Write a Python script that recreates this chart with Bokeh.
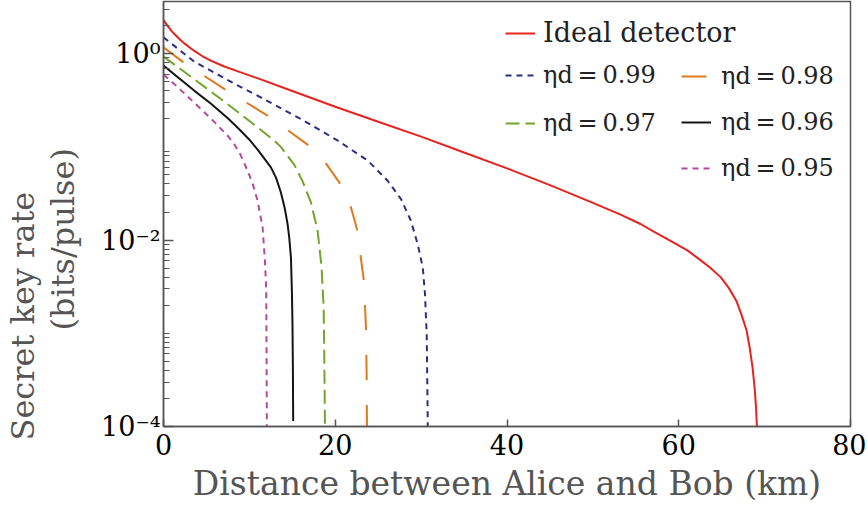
from bokeh.plotting import figure
from bokeh.models import Range1d, FixedTicker, Legend, LegendItem, Title
from bokeh.embed import file_html
from bokeh.resources import INLINE

# ---- data (distance in km, log10 of secret key rate) ----
ideal_km = [0, 0.5, 1, 1.5, 2, 2.5, 3.5, 4.5, 5.5, 7, 9, 11, 15, 20, 25, 30, 35, 40, 45, 50,
            53.3, 55.6, 57.3, 59.1, 61, 62.6, 63.7, 64.9, 65.8, 66.7, 67.3, 67.9, 68.25, 68.6,
            68.85, 69.0, 69.15, 69.2]
ideal_log = [0.36, 0.295, 0.237, 0.19, 0.145, 0.105, 0.035, -0.025, -0.075, -0.135, -0.2, -0.265,
             -0.40, -0.57, -0.73, -0.89, -1.06, -1.23, -1.41, -1.60,
             -1.73, -1.83, -1.92, -2.01, -2.11, -2.22, -2.30, -2.40, -2.51, -2.65, -2.80, -2.97,
             -3.15, -3.37, -3.6, -3.8, -4.1, -4.5]

d99_km = [0, 3.57, 8.43, 11.34, 16.2, 20.3, 23.8, 26.1, 27.66, 28.8, 29.6, 30.19, 30.45, 30.65, 30.77, 30.8]
d99_log = [0.176, -0.085, -0.33, -0.47, -0.711, -0.933, -1.148, -1.363, -1.56, -1.79, -2.043, -2.294,
           -2.577, -3.01, -3.94, -4.5]

d98_km = [0, 2.21, 7.06, 12.12, 16.78, 18.7, 20.47, 21.83, 22.53, 23.31, 23.58, 23.66, 23.72]
d98_log = [0.069, -0.085, -0.378, -0.665, -0.976, -1.15, -1.381, -1.65, -1.882, -2.419, -2.939, -3.476, -4.5]

d97_km = [0, 2.21, 6.68, 10.96, 12.89, 13.67, 15.22, 16.2, 17.17, 17.95, 18.41, 18.65, 18.72, 18.8, 18.82]
d97_log = [-0.031, -0.18, -0.486, -0.79, -0.933, -1.0, -1.19, -1.37, -1.596, -1.90, -2.294, -2.724,
           -3.19, -4.0, -4.5]

d96_km = [0, 3.57, 5.5, 7.46, 8.7, 9.98, 10.96, 12.51, 13.1, 13.67, 14.1, 14.45, 14.65, 14.84, 14.95,
          15.02, 15.07, 15.1]
d96_log = [-0.128, -0.396, -0.535, -0.69, -0.80, -0.92, -1.03, -1.22, -1.33, -1.49, -1.65, -1.828,
           -1.98, -2.187, -2.545, -2.9, -3.4, -3.94]

d95_km = [0, 1.24, 4.35, 6, 7.46, 8.23, 9.0, 9.79, 10.4, 10.96, 11.54, 11.81, 11.96, 12.04, 12.05]
d95_log = [-0.224, -0.324, -0.593, -0.74, -0.88, -0.97, -1.09, -1.256, -1.40, -1.578, -1.865, -2.22,
           -2.526, -4.0, -4.5]

labels = ["Ideal detector", "ηd\u2009=\u20090.99", "ηd\u2009=\u20090.98",
          "ηd\u2009=\u20090.97", "ηd\u2009=\u20090.96", "ηd\u2009=\u20090.95"]

x_ticks = [0, 20, 40, 60, 80]
y_ticks = [0.0001, 0.01, 1]
y_tick_labels = ["10⁻⁴", "10⁻²", "10⁰"]
y_title_lines = ["Secret key rate", "(bits/pulse)"]

# ---- figure ----
FONT = "DejaVu Serif"
p = figure(width=866, height=512, output_backend="svg", toolbar_location=None,
           x_range=Range1d(0, 80), y_range=Range1d(1e-4, 3.63), y_axis_type="log",
           min_border_left=163, min_border_right=16, min_border_top=1, min_border_bottom=86,
           background_fill_color="white", border_fill_color="white")
p.xgrid.visible = False
p.ygrid.visible = False
p.outline_line_color = "#555555"
p.outline_line_width = 1.5

AX = "#555555"
for ax in (p.xaxis[0], p.yaxis[0]):
    ax.axis_line_color = AX
    ax.axis_line_width = 1.5
    ax.major_tick_line_color = AX
    ax.major_tick_line_width = 1.5
    ax.minor_tick_line_color = AX
    ax.minor_tick_line_width = 1.2
    ax.major_tick_out = 0
    ax.minor_tick_out = 0
    ax.major_label_text_font = FONT
    ax.major_label_text_font_size = "27px"
    ax.major_label_text_color = "black"
    ax.axis_label_text_font = FONT
    ax.axis_label_text_font_size = "33px"
    ax.axis_label_text_font_style = "normal"
    ax.axis_label_text_color = "#555555"

p.xaxis.ticker = FixedTicker(ticks=x_ticks)
p.xaxis.major_tick_in = 7
p.xaxis.minor_tick_line_color = None
p.xaxis.major_label_standoff = 7
p.xaxis.axis_label = "Distance between Alice and Bob (km)"
p.xaxis.axis_label_standoff = 6

minor = []
for e in range(-4, 1):
    for m in range(2, 10):
        v = m * 10.0 ** e
        if v < 3.63:
            minor.append(v)
minor.append(0.001)
p.yaxis.ticker = FixedTicker(ticks=y_ticks, minor_ticks=minor)
p.yaxis.major_tick_in = 10
p.yaxis.minor_tick_in = 6
p.yaxis.major_label_standoff = 3
p.yaxis.major_label_overrides = {t: s for t, s in zip(y_ticks, y_tick_labels)}
# small blank spacer between tick labels and the two-line title
p.yaxis.axis_label = " "
p.yaxis.axis_label_text_font_size = "2px"
p.yaxis.axis_label_standoff = 11

t1 = Title(text=y_title_lines[1], align="left", text_font=FONT, text_font_size="32px",
           text_font_style="normal", text_color="#555555", offset=96, standoff=0)
t2 = Title(text=y_title_lines[0], align="left", text_font=FONT, text_font_size="32px",
           text_font_style="normal", text_color="#555555", offset=-14, standoff=0)
p.add_layout(t1, "left")
p.add_layout(t2, "left")

# ---- curves ----
series = [
    (ideal_km, ideal_log, "#e8231f", "solid"),
    (d99_km, d99_log, "#2c2f7f", "6 5"),
    (d98_km, d98_log, "#e0781c", "25 25"),
    (d97_km, d97_log, "#72a52b", "14 6"),
    (d96_km, d96_log, "#151515", "solid"),
    (d95_km, d95_log, "#b5489f", "6 5"),
]
rends = []
for xs, ls, col, dash in series:
    ys = [10 ** v for v in ls]
    r = p.line(xs, ys, line_color=col, line_width=2, line_dash=dash)
    rends.append(r)

def make_legend(idx, loc, spacing, size, standoff):
    lg = Legend(items=[LegendItem(label=labels[i], renderers=[rends[i]]) for i in idx],
                location=loc, orientation="vertical")
    lg.border_line_color = None
    lg.background_fill_alpha = 0
    lg.padding = 0
    lg.margin = 0
    lg.spacing = spacing
    lg.glyph_width = 30
    lg.glyph_height = 30
    lg.label_height = 30
    lg.label_standoff = standoff
    lg.label_text_font = FONT
    lg.label_text_font_size = size
    lg.label_text_color = "#222222"
    p.add_layout(lg)

make_legend([0], (342, 378), 0, "27px", 8)
make_legend([1, 3], (342, 288), 18, "24px", 8)
make_legend([2, 4, 5], (518, 243), 16, "24px", 10)

open("out.html", "w").write(file_html(p, INLINE))
